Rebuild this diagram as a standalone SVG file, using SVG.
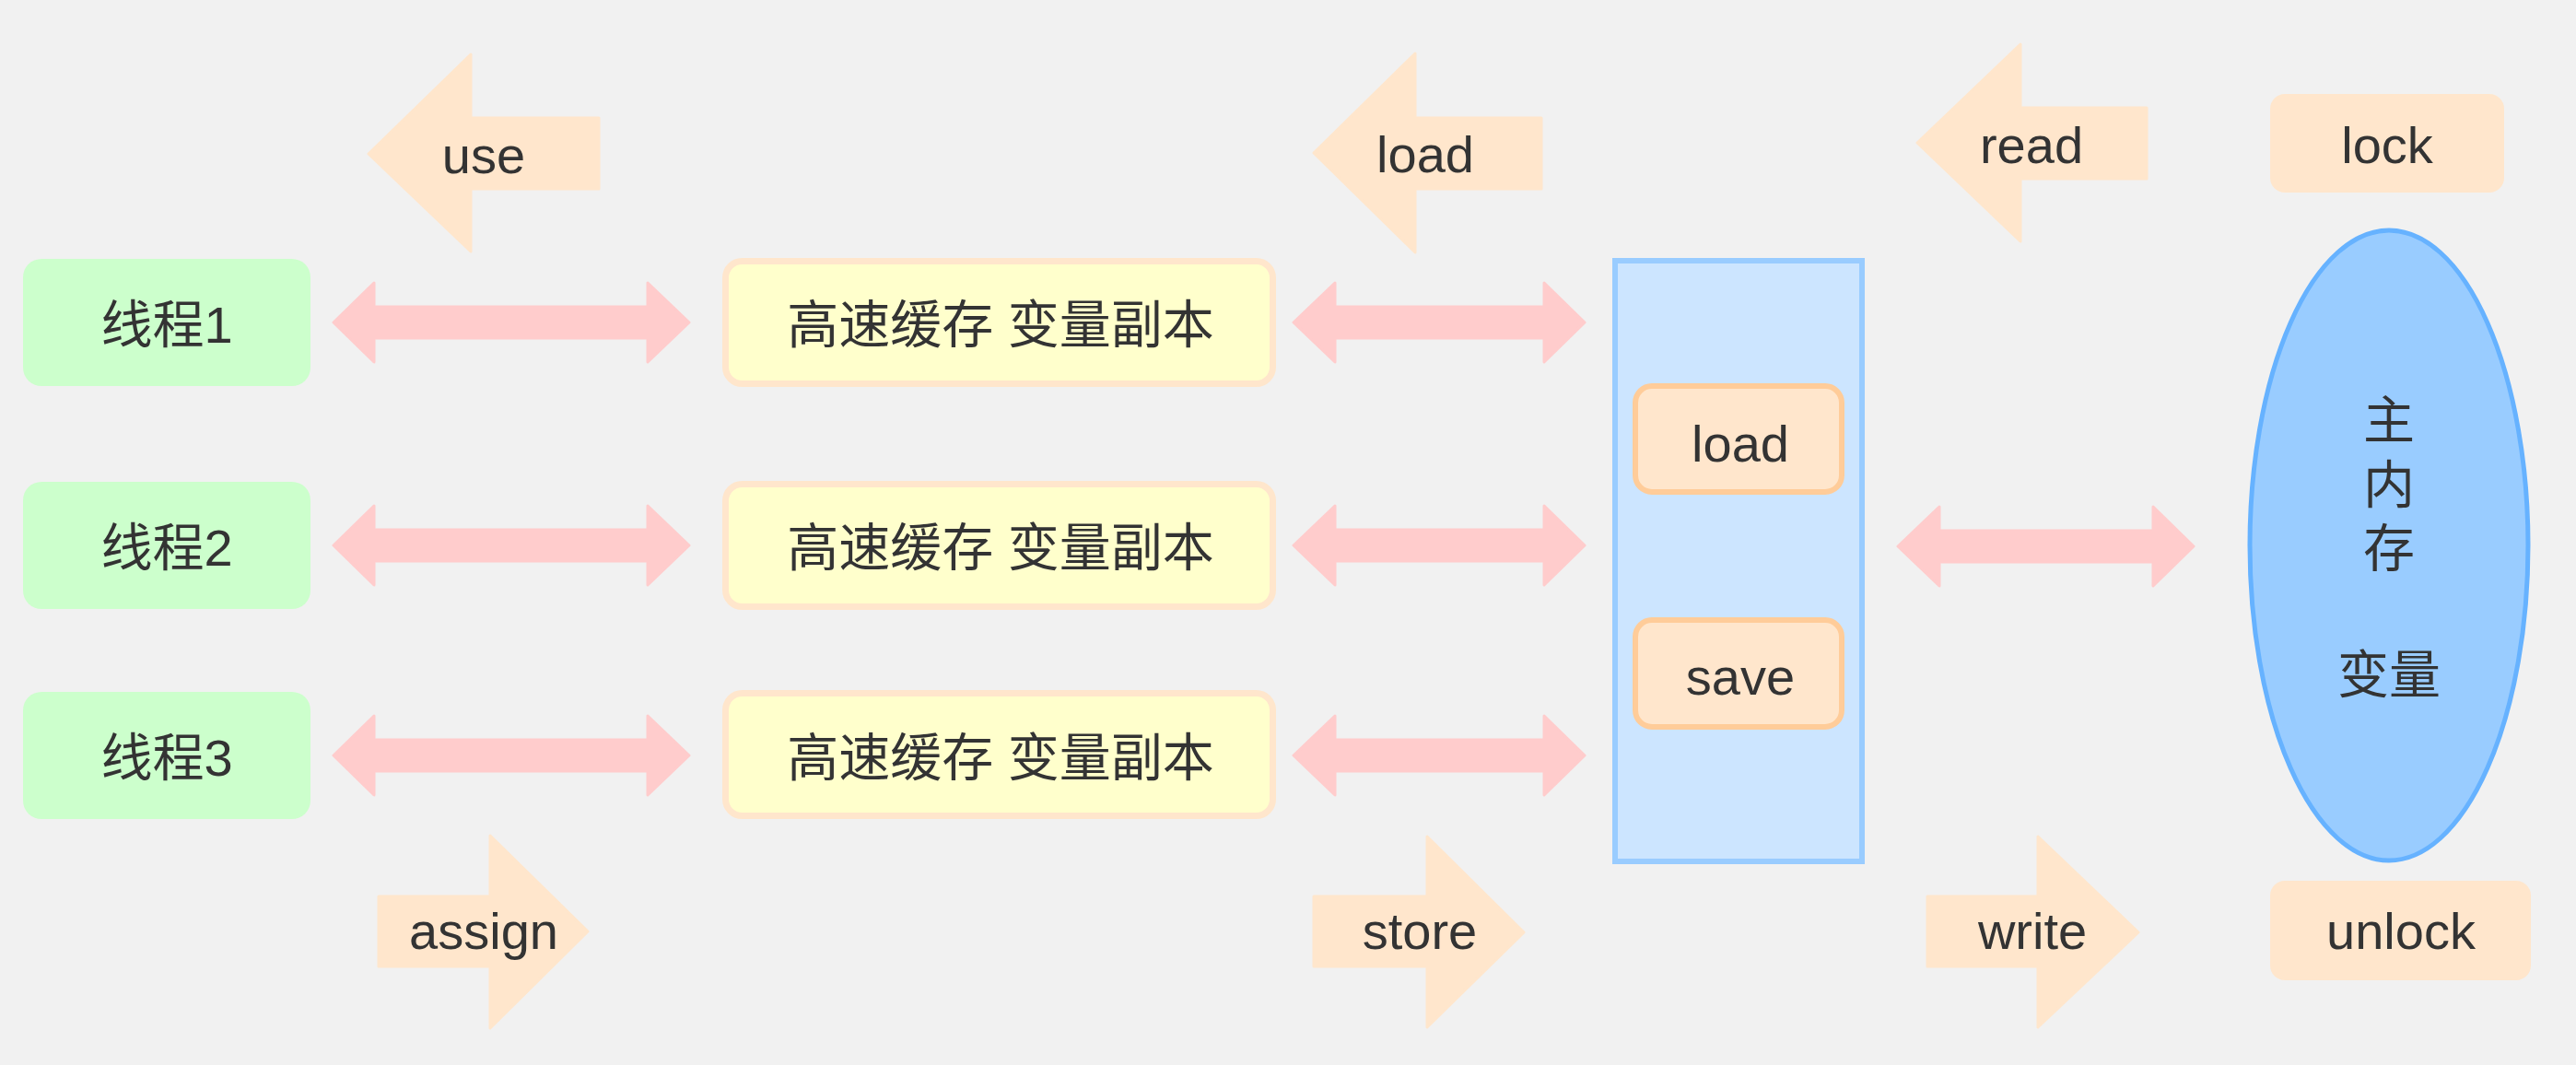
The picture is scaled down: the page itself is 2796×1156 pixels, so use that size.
<svg xmlns="http://www.w3.org/2000/svg" width="2796" height="1156" viewBox="0 0 2796 1156">
<style>
text{font-family:"Liberation Sans","Noto Sans CJK SC",sans-serif;font-size:56px;fill:#333333;text-anchor:middle}
.thread{fill:#CCFFCC}
.cache{fill:#FFFFCC;stroke:#FFE6CC;stroke-width:7}
.op{fill:#FFE6CC;stroke:#FFE6CC;stroke-width:3;stroke-linejoin:round}
.link{fill:#FFCCCC;stroke:#FFCCCC;stroke-width:3;stroke-linejoin:round}
.work{fill:#CCE5FF;stroke:#99CCFF;stroke-width:6}
.inner{fill:#FFE6CC;stroke:#FFCC99;stroke-width:6}
.mem{fill:#99CCFF;stroke:#66B2FF;stroke-width:5}
.tag{fill:#FFE6CC}
</style>
<rect width="2796" height="1156" fill="#F1F1F1"/>

<g id="connectors">
<polygon class="link" points="362,350 406,307 406,333 703,333 703,307 748,350 703,393 703,367 406,367 406,393"/>
<polygon class="link" points="362,592 406,549 406,575 703,575 703,549 748,592 703,635 703,609 406,609 406,635"/>
<polygon class="link" points="362,820 406,777 406,803 703,803 703,777 748,820 703,863 703,837 406,837 406,863"/>
<polygon class="link" points="1404,350 1449,307 1449,333 1676,333 1676,307 1720,350 1676,393 1676,367 1449,367 1449,393"/>
<polygon class="link" points="1404,592 1449,549 1449,575 1676,575 1676,549 1720,592 1676,635 1676,609 1449,609 1449,635"/>
<polygon class="link" points="1404,820 1449,777 1449,803 1676,803 1676,777 1720,820 1676,863 1676,837 1449,837 1449,863"/>
<polygon class="link" points="2060,593 2105,550 2105,576 2337,576 2337,550 2381,593 2337,636 2337,610 2105,610 2105,636"/>
</g>

<g id="op-use">
<polygon class="op" points="400,167 511,59 511,128 650,128 650,205 511,205 511,273"/>
<text x="525" y="188">use</text>
</g>
<g id="op-load">
<polygon class="op" points="1426,166 1536,58 1536,128 1673,128 1673,205 1536,205 1536,274"/>
<text x="1547" y="187">load</text>
</g>
<g id="op-read">
<polygon class="op" points="2081,155 2193,48 2193,117 2330,117 2330,194 2193,194 2193,262"/>
<text x="2205" y="177">read</text>
</g>
<g id="op-lock">
<rect class="tag" x="2464" y="102" width="254" height="107" rx="16"/>
<text x="2591" y="177">lock</text>
</g>

<g id="op-assign">
<polygon class="op" points="411,973 532,973 532,907 638,1011 532,1116 532,1049 411,1049"/>
<text x="525" y="1030">assign</text>
</g>
<g id="op-store">
<polygon class="op" points="1426,973 1549,973 1549,908 1654,1012 1549,1115 1549,1049 1426,1049"/>
<text x="1541" y="1030">store</text>
</g>
<g id="op-write">
<polygon class="op" points="2092,973 2212,973 2212,908 2321,1012 2212,1115 2212,1049 2092,1049"/>
<text x="2206" y="1030">write</text>
</g>
<g id="op-unlock">
<rect class="tag" x="2464" y="956" width="283" height="108" rx="16"/>
<text x="2606" y="1030">unlock</text>
</g>

<g id="thread1">
<rect class="thread" x="25" y="281" width="312" height="138" rx="20"/>
<text x="181" y="372">线程1</text>
</g>
<g id="thread2">
<rect class="thread" x="25" y="523" width="312" height="138" rx="20"/>
<text x="181" y="614">线程2</text>
</g>
<g id="thread3">
<rect class="thread" x="25" y="751" width="312" height="138" rx="20"/>
<text x="181" y="842">线程3</text>
</g>

<g id="cache1">
<rect class="cache" x="787.5" y="283.5" width="594" height="133" rx="18"/>
<text x="1086" y="372">高速缓存 变量副本</text>
</g>
<g id="cache2">
<rect class="cache" x="787.5" y="525.5" width="594" height="133" rx="18"/>
<text x="1086" y="614">高速缓存 变量副本</text>
</g>
<g id="cache3">
<rect class="cache" x="787.5" y="752.5" width="594" height="133" rx="18"/>
<text x="1086" y="842">高速缓存 变量副本</text>
</g>

<g id="working">
<rect class="work" x="1753" y="283" width="268" height="652"/>
</g>
<g id="inner-load">
<rect class="inner" x="1775" y="419" width="224" height="115" rx="18"/>
<text x="1889" y="501">load</text>
</g>
<g id="inner-save">
<rect class="inner" x="1775" y="673" width="224" height="116" rx="18"/>
<text x="1889" y="754">save</text>
</g>

<g id="main-memory">
<ellipse class="mem" cx="2593" cy="592" rx="151" ry="342"/>
<text x="2593" y="476">主</text>
<text x="2593" y="546">内</text>
<text x="2593" y="615">存</text>
<text x="2593" y="752">变量</text>
</g>
</svg>
